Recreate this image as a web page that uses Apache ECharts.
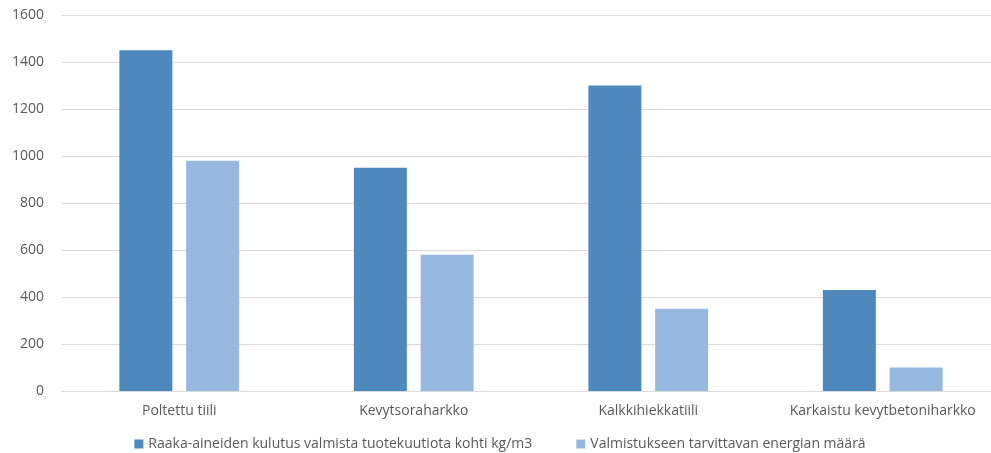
<!DOCTYPE html>
<html>
<head>
    <meta charset="utf-8" />
    <title>Raaka-aineet ja energia</title>
    <script type="text/javascript" src="https://cdn.jsdelivr.net/npm/echarts@6/dist/echarts.min.js"></script>
    <style>
        html, body { margin: 0; padding: 0; background: #fff; overflow: hidden; }
        #container { width: 1000px; height: 453px; }
    </style>
</head>
<body>
<div id="container"></div>
<script type="text/javascript">
    // tuotteet
    var categories = ['Poltettu tiili', 'Kevytsoraharkko', 'Kalkkihiekkatiili', 'Karkaistu kevytbetoniharkko'];
    var seriesNames = ['Raaka-aineiden kulutus valmista tuotekuutiota kohti kg/m3', 'Valmistukseen tarvittavan energian määrä'];
    var raakaAineet = [1450, 950, 1300, 430];
    var energia = [980, 580, 350, 100];
    var yTicks = [0, 200, 400, 600, 800, 1000, 1200, 1400, 1600];

    var textColor = '#595959';
    var font = 'Open Sans';

    // kaavio on hieman ikkunaa leveämpi, kuten alkuperäisessä
    var myChart = echarts.init(document.getElementById('container'));
    var option = {
        animation: false,
        grid: {
            left: 62,
            top: 15,
            right: 0,
            height: 376,
            containLabel: false
        },
        legend: {
            top: 437,
            left: 'center',
            padding: 0,
            itemWidth: 9,
            itemHeight: 9,
            itemGap: 44,
            icon: 'rect',
            textStyle: { color: textColor, fontSize: 14, fontFamily: font },
            data: seriesNames
        },
        xAxis: {
            type: 'category',
            data: categories,
            axisLine: { show: true, lineStyle: { color: '#d9d9d9' } },
            axisTick: { show: false },
            axisLabel: { color: textColor, fontSize: 14, fontFamily: font, margin: 13, interval: 0 }
        },
        yAxis: {
            type: 'value',
            min: yTicks[0],
            max: yTicks[yTicks.length - 1],
            interval: 200,
            axisLine: { show: false },
            axisTick: { show: false },
            axisLabel: {
                color: textColor, fontSize: 14, fontFamily: font, margin: 18,
                formatter: function (v) { return String(v); }
            },
            splitLine: { lineStyle: { color: '#d9d9d9', width: 1 } }
        },
        series: [
            {
                name: seriesNames[0],
                type: 'bar',
                barWidth: 53,
                barGap: '26%',
                data: raakaAineet,
                itemStyle: { color: '#4f88bd' }
            },
            {
                name: seriesNames[1],
                type: 'bar',
                barWidth: 53,
                data: energia,
                itemStyle: { color: '#97b8df' }
            }
        ]
    };
    myChart.setOption(option);
</script>
</body>
</html>
